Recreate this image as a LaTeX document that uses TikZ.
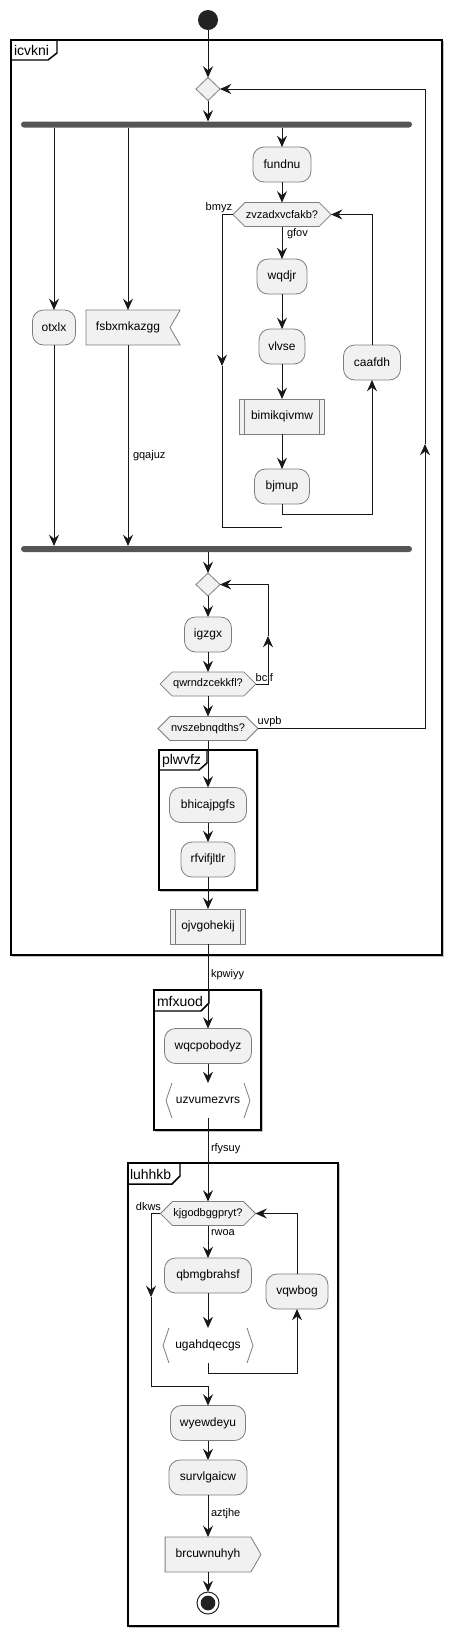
\documentclass[tikz,border=0pt]{standalone}
\usepackage{fontspec}
\setmainfont{Liberation Sans}
\usetikzlibrary{arrows.meta,shapes.symbols,shapes.geometric,calc}
\definecolor{nodefill}{HTML}{F1F1F1}
\definecolor{nodeline}{HTML}{7E7E7E}
\definecolor{ink}{HTML}{181818}
\definecolor{barfill}{HTML}{555555}
\definecolor{shade}{HTML}{C4C4C4}
\definecolor{dot}{HTML}{222222}
\begin{document}
\begin{tikzpicture}[x=0.75pt,y=-0.75pt,
  every node/.style={inner sep=0pt,outer sep=0pt,text=black},
  act/.style={draw=nodeline,fill=nodefill,line width=0.6pt,rounded corners=8.25pt,
     minimum height=26.25pt,font=\fontsize{9}{10}\selectfont},
  subr/.style={draw=nodeline,fill=nodefill,line width=0.6pt,
     minimum height=26.25pt,font=\fontsize{9}{10}\selectfont},
  bracketbox/.style={minimum height=26.25pt,font=\fontsize{9}{10}\selectfont},
  hexa/.style={signal,signal to=east and west,signal pointer angle=90,
     draw=nodeline,fill=nodefill,line width=0.6pt,minimum height=18pt,
     inner xsep=0.75pt,font=\fontsize{8.25}{9}\selectfont},
  sendsig/.style={signal,signal to=east,signal pointer angle=120,
     draw=nodeline,fill=nodefill,line width=0.6pt,minimum height=26.25pt,
     inner xsep=7.9pt,font=\fontsize{9}{10}\selectfont},
  recvsig/.style={signal,signal to=nowhere,signal from=east,signal pointer angle=120,
     draw=nodeline,fill=nodefill,line width=0.6pt,minimum height=26.25pt,
     inner xsep=7.5pt,font=\fontsize{9}{10}\selectfont},
  choice/.style={diamond,draw=nodeline,fill=nodefill,line width=0.6pt,
     minimum width=18pt,minimum height=17.25pt},
  bar/.style={fill=barfill,rounded corners=2.25pt,minimum height=4.5pt,minimum width=293.25pt},
  lbl/.style={font=\fontsize{8.25}{9}\selectfont},
  ttl/.style={font=\fontsize{10.5}{12}\selectfont,anchor=west},
  flow/.style={draw=ink,line width=0.75pt},
  arr/.style={flow,-{Stealth[length=8.5pt,width=7.5pt,inset=3pt]}},
  frameline/.style={draw=black,line width=1.1pt},
  frameshadow/.style={draw=shade,line width=0.9pt},
  brk/.style={draw=nodeline,line width=0.6pt},
]
\useasboundingbox (0,0) rectangle (451,1636);

% ---------- frames ----------
\draw[frameshadow] (12.8,41.8) rectangle (443.8,956.8);
\draw[frameline,fill=white] (11,40) rectangle (442,955);
\draw[frameline] (11,60) -- (48,60) -- (57,53) -- (57,40);
\node[ttl] (t1) at (14,50.5) {icvkni};

\draw[frameshadow] (160.8,751.8) rectangle (258.8,891.8);
\draw[frameline,fill=white] (159,750) rectangle (257,890);
\draw[frameline] (159,770) -- (199,770) -- (207,763) -- (207,750);
\node[ttl] (t2) at (162,760.5) {plwvfz};

\draw[frameshadow] (155.8,991.8) rectangle (262.8,1131.8);
\draw[frameline,fill=white] (154,990) rectangle (261,1130);
\draw[frameline] (154,1011) -- (201,1011) -- (209,1003) -- (209,990);
\node[ttl] (t3) at (157,1001) {mfxuod};

\draw[frameshadow] (129.8,1164.8) rectangle (339.8,1627.8);
\draw[frameline,fill=white] (128,1163) rectangle (338,1626);
\draw[frameline] (128,1184) -- (172,1184) -- (180,1176) -- (180,1163);
\node[ttl] (t4) at (130,1174) {luhhkb};

% ---------- nodes ----------
\node[circle,fill=dot,minimum size=15pt] (start) at (208,20) {};
\node[choice] (d1) at (208,89) {};
\node[bar] (fork1) at (216.5,124.5) {};

\node[act,minimum width=32.25pt] (otxlx) at (54,327.5) {otxlx};
\node[recvsig] (fsb) at (128,327.5) {fsbxmkazgg};

\node[act,minimum width=43.5pt] (fundnu) at (282,164.5) {fundnu};
\node[hexa] (zvz) at (282,214.5) {zvzadxvcfakb?};
\node[act,minimum width=37.5pt] (wqdjr) at (282,276.5) {wqdjr};
\node[act,minimum width=34.5pt] (vlvse) at (282,346.5) {vlvse};
\node[subr,minimum width=63.75pt] (bim) at (282,416.5) {bimikqivmw};
\node[act,minimum width=41.25pt] (bjmup) at (282,486.5) {bjmup};
\node[act,minimum width=42.75pt] (caafdh) at (372,362.5) {caafdh};

\node[bar] (fork2) at (216.5,549) {};
\node[choice] (d2) at (208,584.5) {};
\node[act,minimum width=35.25pt] (igzgx) at (208,634.5) {igzgx};
\node[hexa] (qwr) at (208,684) {qwrndzcekkfl?};
\node[hexa] (nvs) at (208,728.5) {nvszebnqdths?};
\node[act,minimum width=57.75pt] (bhic) at (208,805) {bhicajpgfs};
\node[act,minimum width=40.5pt] (rfvi) at (208,859.5) {rfvifjltlr};
\node[subr,minimum width=56.25pt] (ojvg) at (208,926.5) {ojvgohekij};

\node[act,minimum width=65.25pt] (wqcp) at (208,1046) {wqcpobodyz};
\node[bracketbox,minimum width=63pt] (uzvu) at (208,1100.5) {uzvumezvrs};

\node[hexa] (kjg) at (208,1213.5) {kjgodbggpryt?};
\node[act,minimum width=65.25pt] (qbmg) at (208,1275.5) {qbmgbrahsf};
\node[bracketbox,minimum width=67.5pt] (ugah) at (208,1345.5) {ugahdqecgs};
\node[act,minimum width=46.5pt] (vqw) at (297,1291.5) {vqwbog};
\node[act,minimum width=56.25pt] (wyew) at (208,1423) {wyewdeyu};
\node[act,minimum width=58.5pt] (surv) at (208,1477.5) {survlgaicw};
\node[sendsig] (brcu) at (208,1554.5) {brcuwnuhyh};
\node[circle,draw=dot,line width=0.75pt,fill=white,minimum size=16.5pt] (stop) at (208,1603) {};
\node[circle,fill=dot,minimum size=11pt] (stopin) at (stop.center) {};

% subroutine side lines
\draw[brk] ($(bim.north west)+(5,0)$) -- ($(bim.south west)+(5,0)$);
\draw[brk] ($(bim.north east)+(-5,0)$) -- ($(bim.south east)+(-5,0)$);
\draw[brk] ($(ojvg.north west)+(5,0)$) -- ($(ojvg.south west)+(5,0)$);
\draw[brk] ($(ojvg.north east)+(-5,0)$) -- ($(ojvg.south east)+(-5,0)$);
% bracket shapes
\draw[brk] ($(uzvu.north west)+(6,0)$) -- (uzvu.west) -- ($(uzvu.south west)+(6,0)$);
\draw[brk] ($(uzvu.north east)+(-6,0)$) -- (uzvu.east) -- ($(uzvu.south east)+(-6,0)$);
\draw[brk] ($(ugah.north west)+(6,0)$) -- (ugah.west) -- ($(ugah.south west)+(6,0)$);
\draw[brk] ($(ugah.north east)+(-6,0)$) -- (ugah.east) -- ($(ugah.south east)+(-6,0)$);

% ---------- labels ----------
\node[lbl,anchor=east] (lbmyz) at (232,208) {bmyz};
\node[lbl,anchor=west] (lgfov) at (287,234) {gfov};
\node[lbl,anchor=west] (lgqa) at (133,455.5) {gqajuz};
\node[lbl,anchor=west] (lbc) at (255.7,677.5) {bclf};
\node[lbl,anchor=west] (luvpb) at (257.7,722) {uvpb};
\node[lbl,anchor=west] (lkpw) at (211,975) {kpwiyy};
\node[lbl,anchor=west] (lrfy) at (211,1149) {rfysuy};
\node[lbl,anchor=east] (ldkws) at (161,1207) {dkws};
\node[lbl,anchor=west] (lrwoa) at (211,1233) {rwoa};
\node[lbl,anchor=west] (lazt) at (211,1514) {aztjhe};

% ---------- coordinates ----------
\coordinate (bmyzdown) at (222,366);
\coordinate (bmyzend) at (282,527);
\coordinate (loop1) at (282,514);
\coordinate (bcup) at (268,636);
\coordinate (uvup) at (425,444);
\coordinate (loop2) at (208,1373);
\coordinate (dkdown) at (151,1297);
\coordinate (dkcorner) at (208,1386);

% ---------- connectors ----------
\draw[arr] (start) -- (d1);
\draw[arr] (d1.south) -- (d1.south |- fork1.north);
\draw[arr] (fork1.south -| otxlx.north) -- (otxlx.north);
\draw[arr] (fork1.south -| fsb.center) -- (fsb.center |- fsb.north);
\draw[arr] (fork1.south -| fundnu.north) -- (fundnu.north);
\draw[arr] (fundnu.south) -- (zvz.north);
\draw[arr] (zvz.south) -- (wqdjr.north);
\draw[arr] (wqdjr.south) -- (vlvse.north);
\draw[arr] (vlvse.south) -- (bim.north);
\draw[arr] (bim.south) -- (bjmup.north);
\draw[flow] (bjmup.south) -- (loop1);
\draw[arr] (loop1) -| (caafdh.south);
\draw[arr] (caafdh.north) |- (zvz.east);
\draw[arr] (zvz.west) -| (bmyzdown);
\draw[flow] (bmyzdown) |- (bmyzend);
\draw[arr] (otxlx.south) -- (otxlx.south |- fork2.north);
\draw[arr] (fsb.center |- fsb.south) -- (fsb.center |- fork2.north);
\draw[arr] (fork2.south -| d2.north) -- (d2.north);
\draw[arr] (d2.south) -- (igzgx.north);
\draw[arr] (igzgx.south) -- (qwr.north);
\draw[arr] (qwr.east) -| (bcup);
\draw[arr] (bcup) |- (d2.east);
\draw[arr] (qwr.south) -- (nvs.north);
\draw[arr] (nvs.east) -| (uvup);
\draw[arr] (uvup) |- (d1.east);
\draw[arr] (nvs.south) -- (bhic.north);
\draw[arr] (bhic.south) -- (rfvi.north);
\draw[arr] (rfvi.south) -- (ojvg.north);
\draw[arr] (ojvg.south) -- (wqcp.north);
\draw[arr] (wqcp.south) -- (uzvu.north);
\draw[arr] (uzvu.south) -- (kjg.north);
\draw[arr] (kjg.south) -- (qbmg.north);
\draw[arr] (qbmg.south) -- (ugah.north);
\draw[flow] (ugah.south) -- (loop2);
\draw[arr] (loop2) -| (vqw.south);
\draw[arr] (vqw.north) |- (kjg.east);
\draw[arr] (kjg.west) -| (dkdown);
\draw[flow] (dkdown) |- (dkcorner);
\draw[arr] (dkcorner) -- (wyew.north);
\draw[arr] (wyew.south) -- (surv.north);
\draw[arr] (surv.south) -- (brcu.north);
\draw[arr] (brcu.south) -- (stop.north);
\end{tikzpicture}
\end{document}
